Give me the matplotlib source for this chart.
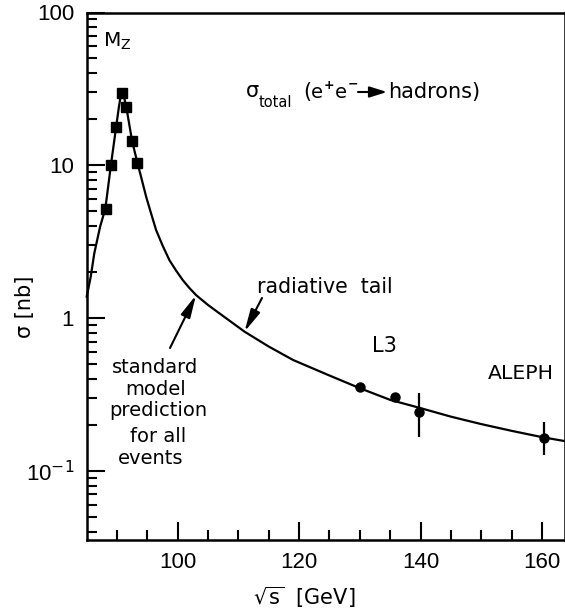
import matplotlib
matplotlib.use("Agg")
import matplotlib.pyplot as plt
from matplotlib.ticker import FixedLocator, NullFormatter, LogLocator

plt.rcParams['font.family'] = ['DejaVu Sans']
plt.rcParams['mathtext.fontset'] = 'dejavusans'

# --- data ---
# Z-peak scan (squares)
peak_x = [88.1, 89.0, 89.8, 90.8, 91.5, 92.5, 93.3]
peak_y = [5.2, 10.1, 17.8, 29.5, 24.0, 14.4, 10.3]
# high energy points (dots): sqrt(s), sigma, lower err, upper err
hi_x = [130.0, 135.8, 139.7, 160.4]
hi_y = [0.356, 0.303, 0.244, 0.164]
hi_lo = [0.0, 0.0, 0.078, 0.037]
hi_hi = [0.0, 0.0, 0.081, 0.046]
# standard model prediction curve
curve_x = [85.0, 85.66, 86.25, 87.2, 88.07, 89.0, 89.83, 90.3, 90.7, 91.1,
           91.53, 92.48, 93.35, 93.96, 94.8, 95.61, 96.44, 97.52, 98.63,
           99.74, 100.83, 101.93, 103.04, 104.95, 106.9, 111.0, 115.0,
           119.0, 125.0, 130.0, 135.0, 140.0, 145.0, 150.0, 155.0, 160.0,
           164.3]
curve_y = [1.38, 1.86, 2.65, 3.95, 5.2, 10.1, 17.6, 24.0, 30.0, 28.5,
           24.0, 14.4, 10.4, 8.39, 6.21, 4.83, 3.76, 2.97, 2.39,
           2.04, 1.77, 1.57, 1.41, 1.22, 1.07, 0.814, 0.65,
           0.531, 0.42, 0.347, 0.291, 0.257, 0.226, 0.202, 0.1825, 0.166,
           0.155]
x_major = [100, 120, 140, 160]
x_minor = [90, 95, 105, 110, 115, 125, 130, 135, 145, 150, 155]

W, H = 565, 613
fig = plt.figure(figsize=(W / 100, H / 100), dpi=100)
L, R, T, B = 86.7, 565.0, 12.5, 540.0
ax = fig.add_axes([L / W, 1 - B / H, (R - L) / W, (B - T) / H])


def fpx(px, py):
    return (px / W, 1 - py / H)


ax.set_yscale('log')
ax.set_xlim(85, 163.8)
ax.set_ylim(0.0352, 100)

ax.plot(curve_x, curve_y, color='black', lw=1.6, solid_joinstyle='round', clip_on=False)
ax.plot(peak_x, peak_y, 's', color='black', ms=6.5)
ax.errorbar(hi_x, hi_y, yerr=[hi_lo, hi_hi], fmt='o', color='black', ms=6.5,
            elinewidth=1.6, capsize=0)

for s in ['left', 'bottom', 'top', 'right']:
    ax.spines[s].set_linewidth(1.8)

ax.xaxis.set_major_locator(FixedLocator(x_major))
ax.xaxis.set_minor_locator(FixedLocator(x_minor))
ax.yaxis.set_minor_locator(LogLocator(base=10, subs=[2, 3, 4, 5, 6, 7, 8, 9], numticks=20))
ax.yaxis.set_minor_formatter(NullFormatter())
ax.set_yticks([0.1, 1, 10, 100])
ax.set_yticklabels([r'10$^{-1}$', '1', '10', '100'])
ax.tick_params(which='both', direction='in', top=False, right=False, width=1.5)
ax.tick_params(which='major', length=13, pad=9)
ax.tick_params(which='minor', length=7)
tickfont = ['Liberation Sans Narrow', 'Liberation Sans', 'DejaVu Sans']
for lab in ax.get_xticklabels() + ax.get_yticklabels():
    lab.set_fontfamily(tickfont)
    lab.set_fontsize(16)

ax.set_xlabel(r'$\sqrt{\mathrm{s}}$  [GeV]', fontsize=15, va='center')
ax.xaxis.set_label_coords((304 - L) / (R - L), (B - 597) / (B - T))
ax.set_ylabel('σ [nb]', fontsize=15, va='center')
ax.yaxis.set_label_coords((25 - L) / (R - L), (B - 307) / (B - T))

# annotations
fig.text(*fpx(103, 47), r'M$_\mathrm{Z}$', fontsize=14.5, va='baseline')
fig.text(*fpx(246, 97), 'σ', fontsize=15, va='baseline')
fig.text(*fpx(259, 107), 'total', fontsize=10.5, va='baseline')
fig.text(*fpx(303, 98), '(', fontsize=15, va='baseline')
fig.text(*fpx(311, 98), 'e', fontsize=14, va='baseline')
fig.text(*fpx(324, 89), '+', fontsize=9, va='baseline', fontweight='bold')
fig.text(*fpx(335, 98), 'e', fontsize=14, va='baseline')
fig.text(*fpx(348, 88), '−', fontsize=9, va='baseline', fontweight='bold')
fig.text(*fpx(388, 98), 'hadrons)', fontsize=15, va='baseline')
fig.patches.append(matplotlib.patches.FancyArrowPatch(
    fpx(358, 92), fpx(387, 92), transform=fig.transFigure,
    arrowstyle='-|>,head_length=0.7,head_width=0.22', color='black', lw=1.5,
    mutation_scale=15, shrinkA=0, shrinkB=0))

fig.text(*fpx(257, 293), 'radiative  tail', fontsize=14.8, va='baseline')
fig.text(*fpx(372, 352), 'L3', fontsize=15, va='baseline')
fig.text(*fpx(488, 379), 'ALEPH', fontsize=14.7, va='baseline')

block = [('standard', 155, 373), ('model', 156, 395), ('prediction', 158, 416),
         ('for all', 158.5, 441.5), ('events', 150.5, 464)]
for txt, cx, by in block:
    fig.text(*fpx(cx, by), txt, fontsize=14, ha='center', va='baseline')

ax.annotate('', xy=(111.0, 0.814), xycoords='data',
            xytext=fpx(262, 298), textcoords='figure fraction',
            arrowprops=dict(arrowstyle='-|>,head_length=0.9,head_width=0.2',
                            color='black', lw=1.5, mutation_scale=15,
                            shrinkA=0, shrinkB=0))
ax.annotate('', xy=(103.0, 1.41), xycoords='data',
            xytext=fpx(170, 348), textcoords='figure fraction',
            arrowprops=dict(arrowstyle='-|>,head_length=0.9,head_width=0.2',
                            color='black', lw=1.5, mutation_scale=15,
                            shrinkA=0, shrinkB=0))

fig.savefig('out.png', dpi=100)
